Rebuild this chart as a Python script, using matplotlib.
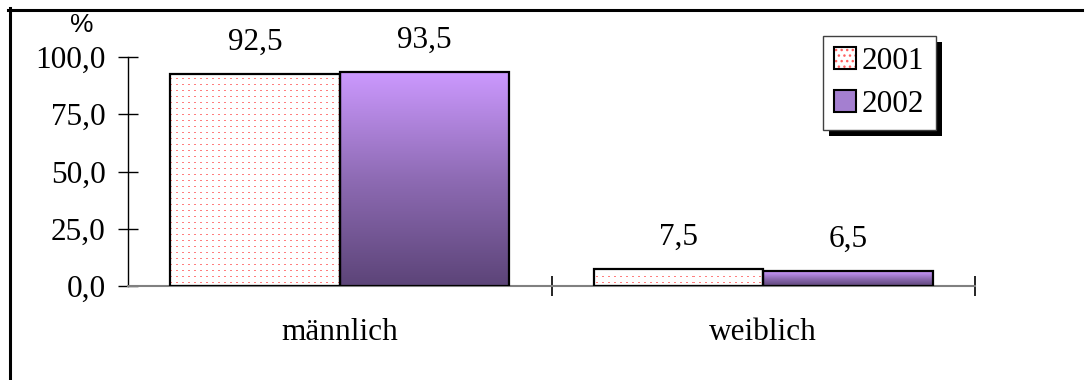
import numpy as np
import matplotlib.pyplot as plt
import matplotlib.patches as mpatches
from matplotlib.lines import Line2D
from matplotlib.colors import LinearSegmentedColormap
from matplotlib.legend_handler import HandlerTuple

plt.rcParams['font.family'] = 'Liberation Serif'

# Daten
kategorien = ['männlich', 'weiblich']
jahre = ['2001', '2002']
werte_2001 = [92.5, 7.5]
werte_2002 = [93.5, 6.5]
y_ticks = [0, 25, 50, 75, 100]

W, H = 1091, 380
FS = 22.5
fig = plt.figure(figsize=(W / 100, H / 100), dpi=100)
ax = fig.add_axes([128 / W, 94 / H, 847 / W, 229 / H])

x = np.arange(len(kategorien)) + 0.5
bw = 0.4

# Balken (nur Umriss, Fuellung kommt als Bild)
b1 = ax.bar(x - bw / 2, werte_2001, bw, facecolor='none', edgecolor='black', linewidth=1.6, zorder=3)
b2 = ax.bar(x + bw / 2, werte_2002, bw, facecolor='none', edgecolor='black', linewidth=1.6, zorder=3)

# Punktmuster fuer 2001
ph, pw = 229, 847
muster = np.ones((ph, pw, 3))
muster[3::6, 0::6] = [1.0, 0.5, 0.5]
muster[3::6, 1::6] = [1.0, 0.5, 0.5]
for b in b1:
    im = ax.imshow(muster, extent=(0, 2, 0, 100), origin='upper', aspect='auto',
                   interpolation='nearest', zorder=2)
    im.set_clip_path(b)

# Farbverlauf fuer 2002
cmap = LinearSegmentedColormap.from_list('lila', ['#5C4478', '#8E6BB4', '#CC99FF'])
grad = np.linspace(0, 1, 256).reshape(-1, 1)
for b in b2:
    x0, w, h = b.get_x(), b.get_width(), b.get_height()
    im = ax.imshow(grad, extent=(x0, x0 + w, 0, h), origin='lower', aspect='auto',
                   cmap=cmap, zorder=2)
    im.set_clip_path(b)

# Beschriftungen
for xs, vals in ((x - bw / 2, werte_2001), (x + bw / 2, werte_2002)):
    for xi, v in zip(xs, vals):
        ax.annotate(f'{v:.1f}'.replace('.', ','), xy=(xi, v), xytext=(0, 17.5),
                    textcoords='offset points', ha='center', va='baseline', fontsize=FS)

ax.set_xlim(0, 2)
ax.set_ylim(0, 100)
ax.set_yticks(y_ticks)
ax.set_yticklabels([f'{t:.1f}'.replace('.', ',') for t in y_ticks], fontsize=FS)
ax.tick_params(axis='y', direction='inout', length=14.4, width=1, pad=9)

ax.set_xticks(x)
ax.set_xticklabels(kategorien, fontsize=FS)
ax.set_xticks([1, 2], minor=True)
ax.tick_params(axis='x', which='major', length=0, pad=23)
ax.tick_params(axis='x', which='minor', direction='inout', length=14.4, width=1.2)

for s in ('top', 'right'):
    ax.spines[s].set_visible(False)
ax.spines['left'].set_linewidth(1)
ax.spines['bottom'].set_color('#808080')
ax.spines['bottom'].set_linewidth(1.5)

fig.text(82 / W, 1 - 25 / H, '%', ha='center', va='center', fontsize=19, family='Liberation Sans')

# Legende
h1 = (mpatches.Patch(facecolor='white', edgecolor='#FF6060', hatch='...', linewidth=0),
      mpatches.Patch(facecolor='none', edgecolor='black', linewidth=1.5))
h2 = mpatches.Patch(facecolor='#A47FD0', edgecolor='black', linewidth=1.5)
leg = fig.legend([h1, h2], jahre, loc='upper left', bbox_to_anchor=(823 / W, 1 - 36 / H),
                 handler_map={tuple: HandlerTuple(ndivide=1)},
                 fancybox=False, edgecolor='#404040', framealpha=1, fontsize=FS,
                 handlelength=0.7, handleheight=0.7, handletextpad=0.2,
                 labelspacing=0.45, borderpad=0.35, borderaxespad=0)
leg.get_frame().set_linewidth(1)
leg.set_zorder(6)

fig.canvas.draw()
bb = leg.get_window_extent()
fig.add_artist(mpatches.Rectangle((bb.x0 + 6, bb.y0 - 6), bb.width, bb.height,
                                  transform=None, facecolor='black', edgecolor='none', zorder=5))

# Rahmen
fig.add_artist(Line2D([8 / W, 1082 / W], [1 - 9.5 / H] * 2, transform=fig.transFigure, color='black', lw=2.2))
fig.add_artist(Line2D([9.5 / W] * 2, [0, 1 - 8 / H], transform=fig.transFigure, color='black', lw=2.2))

fig.savefig('out.png', dpi=100)
